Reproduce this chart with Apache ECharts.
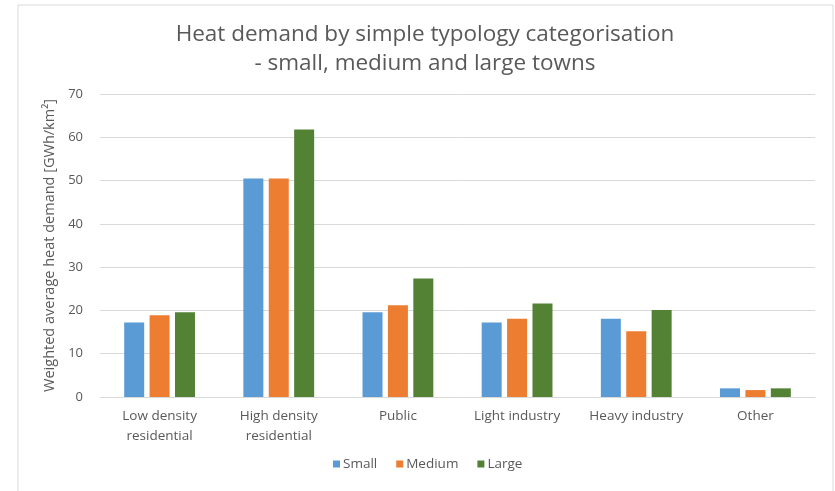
<!DOCTYPE html>
<html>
<head>
<meta charset="utf-8">
<script src="https://cdn.jsdelivr.net/npm/echarts@6/dist/echarts.min.js"></script>
<style>
html,body{margin:0;padding:0;background:#fff;}
#main{width:835px;height:491px;}
</style>
</head>
<body>
<div id="main"></div>
<script>
var categories = ['Low density\nresidential', 'High density\nresidential', 'Public', 'Light industry', 'Heavy industry', 'Other'];
var small = [17.2, 50.5, 19.6, 17.2, 18.1, 2.0];
var medium = [18.9, 50.5, 21.2, 18.1, 15.2, 1.6];
var large = [19.6, 61.8, 27.4, 21.6, 20.1, 2.0];
var seriesNames = ['Small', 'Medium', 'Large'];
var colors = ['#5B9BD5', '#ED7D31', '#548235'];

var font = 'Open Sans';
var chart = echarts.init(document.getElementById('main'));
function bar(name, data, color) {
  return {
    name: name, type: 'bar', data: data, barWidth: 20, barGap: '27%',
    itemStyle: { color: color }
  };
}
chart.setOption({
  animation: false,
  textStyle: { fontFamily: font },
  color: colors,
  graphic: [{
    type: 'rect', shape: { x: 18, y: 5, width: 815, height: 500 },
    style: { fill: 'none', stroke: '#d9d9d9', lineWidth: 1 }, silent: true
  }],
  title: {
    text: 'Heat demand by simple typology categorisation\n- small, medium and large towns',
    left: 425, top: 20, padding: 0, textAlign: 'center',
    textStyle: { fontFamily: font, fontSize: 22.5, fontWeight: 'normal', color: '#595959', lineHeight: 29 }
  },
  legend: {
    data: seriesNames, bottom: 15, left: 328,
    itemWidth: 7, itemHeight: 7, itemGap: 19, icon: 'rect',
    textStyle: { fontFamily: font, fontSize: 13.5, color: '#595959', padding: [0, 0, 0, -2] }
  },
  grid: { left: 100, right: 20, top: 94, bottom: 94 },
  xAxis: {
    type: 'category', data: categories,
    axisLine: { lineStyle: { color: '#d9d9d9' } },
    axisTick: { show: false },
    axisLabel: { color: '#595959', fontSize: 13.5, lineHeight: 20, margin: 9, interval: 0 }
  },
  yAxis: {
    type: 'value', min: 0, max: 70, interval: 10,
    name: 'Weighted average heat demand [GWh/km²]',
    nameLocation: 'middle', nameGap: 40,
    nameTextStyle: { color: '#595959', fontSize: 14.5 },
    axisLine: { show: false }, axisTick: { show: false },
    axisLabel: { color: '#595959', fontSize: 13, margin: 17 },
    splitLine: { lineStyle: { color: '#d9d9d9' } }
  },
  series: [bar(seriesNames[0], small, colors[0]), bar(seriesNames[1], medium, colors[1]), bar(seriesNames[2], large, colors[2])]
});
</script>
</body>
</html>
